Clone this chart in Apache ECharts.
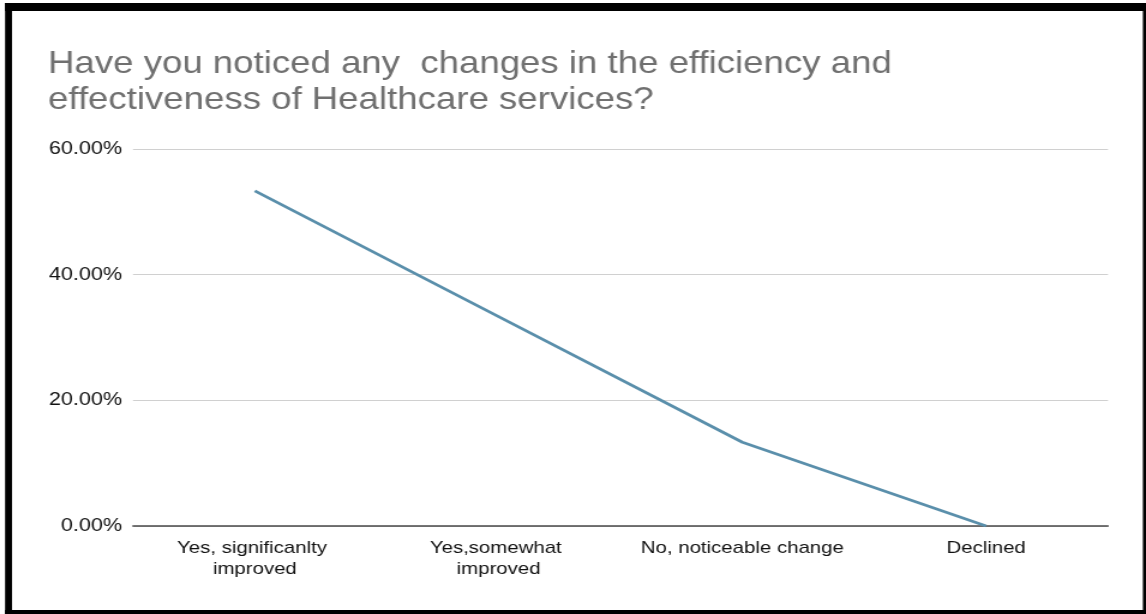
<!DOCTYPE html>
<html>
<head>
<meta charset="utf-8">
<title>Healthcare services efficiency</title>
<script src="https://cdn.jsdelivr.net/npm/echarts@6/dist/echarts.min.js"></script>
<style>
  html, body { margin: 0; padding: 0; background: #ffffff; overflow: hidden; }
  /* The chart is laid out at a narrower width and widened horizontally */
  #chart { width: 955px; height: 614px; transform: scaleX(1.2); transform-origin: 0 0; }
</style>
</head>
<body>
<div id="chart"></div>
<script>
// Survey answers and the share of respondents for each (percent)
const categories = [
  'Yes, significanlty improved',
  'Yes,somewhat improved',
  'No, noticeable change',
  'Declined'
];
const shares = [53.33, 33.33, 13.33, 0];

// Value axis ticks (percent)
const yMin = 0;
const yMax = 60;
const yStep = 20;

const titleText = 'Have you noticed any  changes in the efficiency and\neffectiveness of Healthcare services?';

const chart = echarts.init(document.getElementById('chart'), null, { renderer: 'canvas' });

const W = 955, H = 614;
const frame = '#000000';

chart.setOption({
  backgroundColor: '#ffffff',
  animation: false,
  title: {
    text: titleText,
    left: 40,
    top: 47,
    padding: 0,
    textStyle: {
      fontFamily: 'Liberation Sans, Arial, sans-serif',
      fontSize: 30.5,
      fontWeight: 'normal',
      color: '#707070',
      lineHeight: 36
    }
  },
  grid: {
    left: 110.8,
    right: 31.7,
    top: 149,
    bottom: 88,
    containLabel: false
  },
  xAxis: {
    type: 'category',
    data: categories,
    boundaryGap: true,
    axisTick: { show: false },
    axisLine: { show: true, lineStyle: { color: '#4a4a4a', width: 1.5 } },
    axisLabel: {
      interval: 0,
      margin: 12,
      color: '#111111',
      fontFamily: 'Liberation Sans, Arial, sans-serif',
      fontSize: 17,
      lineHeight: 21,
      width: 175,
      overflow: 'break',
      align: 'center'
    },
    splitLine: { show: false }
  },
  yAxis: {
    type: 'value',
    min: yMin,
    max: yMax,
    interval: yStep,
    axisLine: { show: false },
    axisTick: { show: false },
    axisLabel: {
      margin: 9,
      color: '#111111',
      fontFamily: 'Liberation Sans, Arial, sans-serif',
      fontSize: 18,
      formatter: function (v) { return v.toFixed(2) + '%'; }
    },
    splitLine: { show: true, lineStyle: { color: '#d0d0d0', width: 1 } }
  },
  series: [{
    type: 'line',
    data: shares,
    symbol: 'none',
    smooth: false,
    lineStyle: { color: '#5a8fab', width: 2.8 },
    z: 3
  }],
  graphic: [
    // heavy frame around the chart
    { type: 'rect', shape: { x: 4.2, y: 3, width: 5.8, height: H - 3 }, style: { fill: frame }, silent: true },
    { type: 'rect', shape: { x: 4.2, y: 3, width: W - 4.2, height: 8 }, style: { fill: frame }, silent: true },
    { type: 'rect', shape: { x: W - 2.6, y: 3, width: 2.6, height: H - 3 }, style: { fill: frame }, silent: true },
    { type: 'rect', shape: { x: 4.2, y: H - 4, width: W - 4.2, height: 4 }, style: { fill: frame }, silent: true }
  ]
});
</script>
</body>
</html>
